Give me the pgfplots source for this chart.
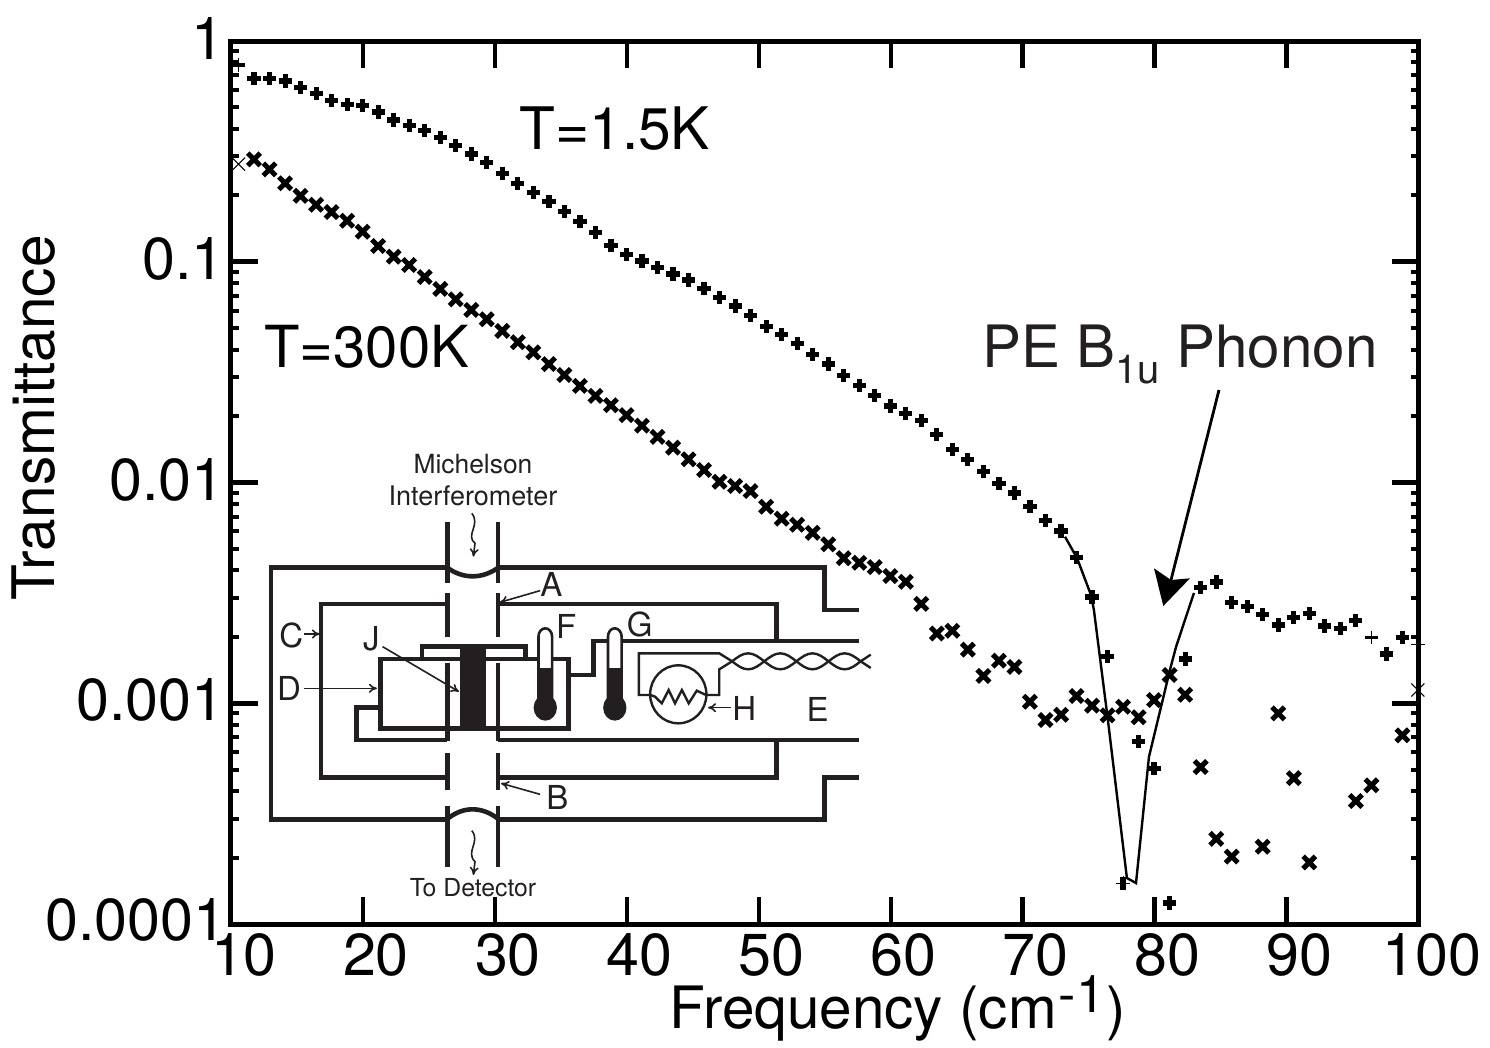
\documentclass[border=0pt]{standalone}
\usepackage{fontspec}
\setmainfont{TeX Gyre Heros}
\usepackage{pgfplots}
\usepackage{pgfplotstable}
\pgfplotsset{compat=1.18}
\usetikzlibrary{arrows.meta}
\definecolor{ink}{HTML}{231F20}
% T = 1.5 K, thick plus marks
\pgfplotstableread{
x y
11.74 0.678
12.92 0.678
14.10 0.659
15.27 0.614
16.45 0.579
17.62 0.537
18.80 0.517
19.98 0.509
21.15 0.477
22.33 0.439
23.50 0.413
24.68 0.394
25.86 0.365
27.03 0.336
28.21 0.308
29.38 0.281
30.56 0.252
31.74 0.227
32.91 0.2055
34.09 0.187
35.26 0.169
36.44 0.1525
37.62 0.136
38.79 0.1187
39.97 0.1076
41.14 0.1008
42.32 0.0940
43.50 0.0880
44.67 0.0827
45.85 0.0758
47.02 0.0690
48.20 0.0630
49.37 0.0570
50.55 0.0508
51.73 0.0467
52.90 0.0428
54.08 0.0381
55.26 0.0344
56.43 0.0306
57.61 0.0274
58.78 0.0247
59.96 0.0222
61.14 0.0206
62.31 0.0191
63.49 0.01646
64.66 0.01414
65.84 0.01269
67.02 0.01124
68.19 0.00988
69.37 0.00896
70.54 0.00777
71.72 0.00671
72.90 0.00603
74.07 0.00458
75.25 0.00303
76.42 0.00163
78.78 0.000670
79.95 0.000505
81.13 0.0001245
82.30 0.001587
83.48 0.00335
84.66 0.00354
85.83 0.00286
87.01 0.00274
88.18 0.00252
89.36 0.00226
90.54 0.00245
91.71 0.00256
92.89 0.00224
94.06 0.00219
95.24 0.00237
97.59 0.00167
98.77 0.00199
}\lowT
% T = 300 K, thick cross marks
\pgfplotstableread{
x y
11.74 0.291
12.92 0.262
14.10 0.2267
15.27 0.199
16.45 0.1813
17.62 0.168
18.80 0.1535
19.98 0.1368
21.15 0.1179
22.33 0.1054
23.50 0.0967
24.68 0.0853
25.86 0.0753
27.03 0.0676
28.21 0.0605
29.38 0.0549
30.56 0.0486
31.74 0.0432
32.91 0.0389
34.09 0.0344
35.26 0.0307
36.44 0.0274
37.62 0.0247
38.79 0.0224
39.97 0.0202
41.14 0.0181
42.32 0.0161
43.50 0.01438
44.67 0.01274
45.85 0.01139
47.02 0.01008
48.20 0.00964
49.37 0.00915
50.55 0.00777
51.73 0.00686
52.90 0.00644
54.08 0.00592
55.26 0.00525
56.43 0.00454
57.61 0.00433
58.78 0.00414
59.96 0.00377
61.14 0.00355
62.31 0.00282
63.49 0.00207
64.66 0.00213
65.84 0.00175
67.02 0.00133
68.19 0.00156
69.37 0.00146
70.54 0.001016
71.72 0.000840
72.90 0.000887
74.07 0.001079
75.25 0.000975
76.42 0.000882
77.60 0.000964
78.78 0.000864
79.95 0.001034
81.13 0.001343
82.30 0.001093
83.48 0.000514
84.66 0.000243
85.83 0.000202
88.18 0.000224
89.36 0.000900
90.54 0.000458
91.71 0.000190
95.24 0.000361
96.42 0.000425
98.77 0.000716
}\highT
% guide line through the phonon dip
\pgfplotstableread{
x y
73.20 0.00568
74.11 0.00455
75.17 0.00309
75.39 0.002645
76.45 0.00084
77.89 0.0001616
78.58 0.0001533
79.56 0.000571
81.15 0.001415
81.61 0.001798
82.97 0.00316
}\dip
\begin{document}
\begin{tikzpicture}
\begin{axis}[
  scale only axis, width=593.85pt, height=441.5pt,
  xmin=10, xmax=100, ymin=1e-4, ymax=1,
  ymode=log, clip=false,
  axis line style={line width=2.5pt},
  xtick={10,20,30,40,50,60,70,80,90,100},
  ytick={1e-4,1e-3,1e-2,1e-1,1},
  yticklabels={\raisebox{1.5pt}{0.0001\hspace{-1pt}},0.001,0.01,0.1,1},
  minor x tick num=0,
  major tick length=13.5pt, minor tick length=4pt,
  major tick style={line width=2.3pt,black},
  minor tick style={line width=2pt,black},
  every tick label/.append style={font=\fontsize{29.6}{31}\selectfont},
  /pgf/number format/assume math mode=true,
  xticklabel style={anchor=base,yshift=-25.5pt,xshift=6.5pt},
  yticklabel style={anchor=east,inner sep=0pt,xshift=-3pt,yshift=1.5pt},
  xlabel={Frequency (cm\hspace{1pt}\raisebox{8pt}{\fontsize{26}{26}\selectfont -1}\hspace{1pt})},
  xlabel style={font=\fontsize{29.2}{31}\selectfont,at={(axis description cs:0.5616,-0.118)},anchor=base},
  ylabel={Transmittance},
  ylabel style={font=\fontsize{29.3}{31}\selectfont,at={(axis description cs:-0.1482,0.573)},anchor=base},
]
\addplot[only marks,mark=+,mark size=3.3pt,mark options={line width=2.6pt,black}] table[x=x,y=y] {\lowT};
\addplot[only marks,mark=x,mark size=4.4pt,mark options={line width=2.5pt,black}] table[x=x,y=y] {\highT};
\addplot[only marks,mark=+,mark size=3.4pt,mark options={line width=0.5pt,black}] coordinates {(10.57,0.7785) (96.42,0.00199) (99.94,0.001855) (77.60,0.000153)};
\addplot[only marks,mark=x,mark size=4.6pt,mark options={line width=0.5pt,black}] coordinates {(10.57,0.277) (99.94,0.001148)};
\addplot[only marks,mark=|,mark size=3.3pt,mark options={line width=2.6pt,black}] coordinates {(77.60,0.000153)};
\addplot[only marks,mark=-,mark size=3.3pt,mark options={line width=1.8pt,black}] coordinates {(10.57,0.7785) (96.42,0.00199)};
\addplot[no marks,line width=1.2pt,black] table[x=x,y=y] {\dip};
\end{axis}
% annotations, in reference pixels
\begin{scope}[x=0.5pt,y=-0.5pt,shift={(-231,-924)}]
\node[anchor=base west,inner sep=0pt,font=\fontsize{29.3}{30}\selectfont] at (519,150) {T=1.5K};
\node[anchor=base west,inner sep=0pt,font=\fontsize{29}{30}\selectfont] at (264,368) {T=300K};
\node[anchor=base west,inner sep=0pt,font=\fontsize{29.2}{30}\selectfont,text=ink] at (982,368) {PE B\raisebox{-0.27em}{\fontsize{20}{20}\selectfont 1u} Phonon};
\draw[line width=1.4pt,black] (1219,390) -- (1171,580);
\fill[black] (1154,568.3) -- (1171,580) -- (1190,578.3) -- (1163.3,606) -- cycle;
\path[use as bounding box] (0,0) rectangle (1490,1045);
\end{scope}
% inset diagram, in crop coordinates
\begin{scope}[x=0.20088pt,y=-0.16667pt,shift={(47.29,-1452)},ink,line width=2.3pt,line cap=butt,line join=miter]
% outer can
\draw (492,382) -- (52,382) -- (52,1138) -- (492,1138);
\draw (617,382) -- (1430,382) -- (1430,510) -- (1517,510);
\draw (617,1138) -- (1430,1138) -- (1430,1013) -- (1517,1013);
\draw (490,382) .. controls (530,418) and (578,418) .. (619,382);
\draw (490,1138) .. controls (530,1098) and (578,1098) .. (619,1138);
% shield
\draw (492,492) -- (177,492) -- (177,1013) -- (492,1013);
\draw (617,492) -- (1310,492) -- (1310,603);
\draw (617,1013) -- (1310,1013) -- (1310,898);
% window walls
\foreach \wx in {491,617} {
  \draw (\wx,245) -- (\wx,428);
  \draw (\wx,460) -- (\wx,590);
  \draw (\wx,668) -- (\wx,902);
  \draw (\wx,940) -- (\wx,1050);
  \draw (\wx,1098) -- (\wx,1280);
}
% inner tube and holder
\draw (1517,603) -- (855,603) -- (855,705) -- (793,705);
\draw (325,657) rectangle (793,865);
\draw (428,657) -- (428,620) -- (685,620) -- (685,657);
\draw (325,802) -- (265,802) -- (265,900) -- (491,900);
\draw (617,900) -- (1517,900);
\fill (522,620) rectangle (588,865);
% thermometers
\foreach \tx in {735,908} {
  \filldraw[fill=white,line width=1.3pt] (\tx-17,770) -- (\tx-17,590) arc[start angle=180,end angle=360,x radius=17,y radius=25] -- (\tx+17,770) -- cycle;
  \fill (\tx-18,683) rectangle (\tx+18,775);
  \fill (\tx,803) ellipse[x radius=29,y radius=39];
}
% heater
\draw[line width=1.2pt] (1066,763) ellipse[x radius=70,y radius=87];
\draw[line width=1.2pt] (997,765) -- (1008,770) -- (1025,790) -- (1042,750) -- (1058,790) -- (1075,750) -- (1092,790) -- (1112,752) -- (1135,765);
\draw[line width=1.2pt] (997,765) -- (968,765) -- (968,640) -- (1168,640) -- (1200,664) sin (1240,688) cos (1280,664) sin (1320,640) cos (1360,664) sin (1400,688) cos (1440,664) sin (1480,640) cos (1520,664) -- (1545,684);
\draw[line width=1.2pt] (1135,765) -- (1168,765) -- (1168,688) -- (1200,664) sin (1240,640) cos (1280,664) sin (1320,688) cos (1360,664) sin (1400,640) cos (1440,664) sin (1480,688) cos (1520,664) -- (1545,644);
% pointers
\begin{scope}[line width=0.8pt,-{To[length=4pt,width=4.5pt]}]
\draw (722,452) -- (622,487);
\draw (722,1063) -- (625,1030);
\draw (135,582) -- (174,582);
\draw (135,745) -- (316,745);
\draw (330,620) -- (520,755);
\draw (1197,803) -- (1140,803);
\draw (552,220) .. controls (575,255) and (535,285) .. (560,310) -- (556,350);
\draw (552,1172) .. controls (575,1205) and (535,1235) .. (560,1265) -- (556,1305);
\end{scope}
\begin{scope}[every node/.style={inner sep=0pt,text=ink}]
\node[font=\fontsize{13.2}{14}\selectfont] at (555,72) {Michelson};
\node[font=\fontsize{13.5}{14}\selectfont] at (555,168) {Interferometer};
\node[font=\fontsize{12.4}{14}\selectfont] at (555,1342) {To Detector};
\foreach \lx/\ly/\lt in {750/433/A,765/1072/B,103/585/C,97/745/D,302/595/J,787/558/F,970/552/G,1230/805/H,1413/807/E}
  \node[font=\fontsize{16.5}{18}\selectfont] at (\lx,\ly) {\lt};
\end{scope}
\end{scope}
\end{tikzpicture}
\end{document}
